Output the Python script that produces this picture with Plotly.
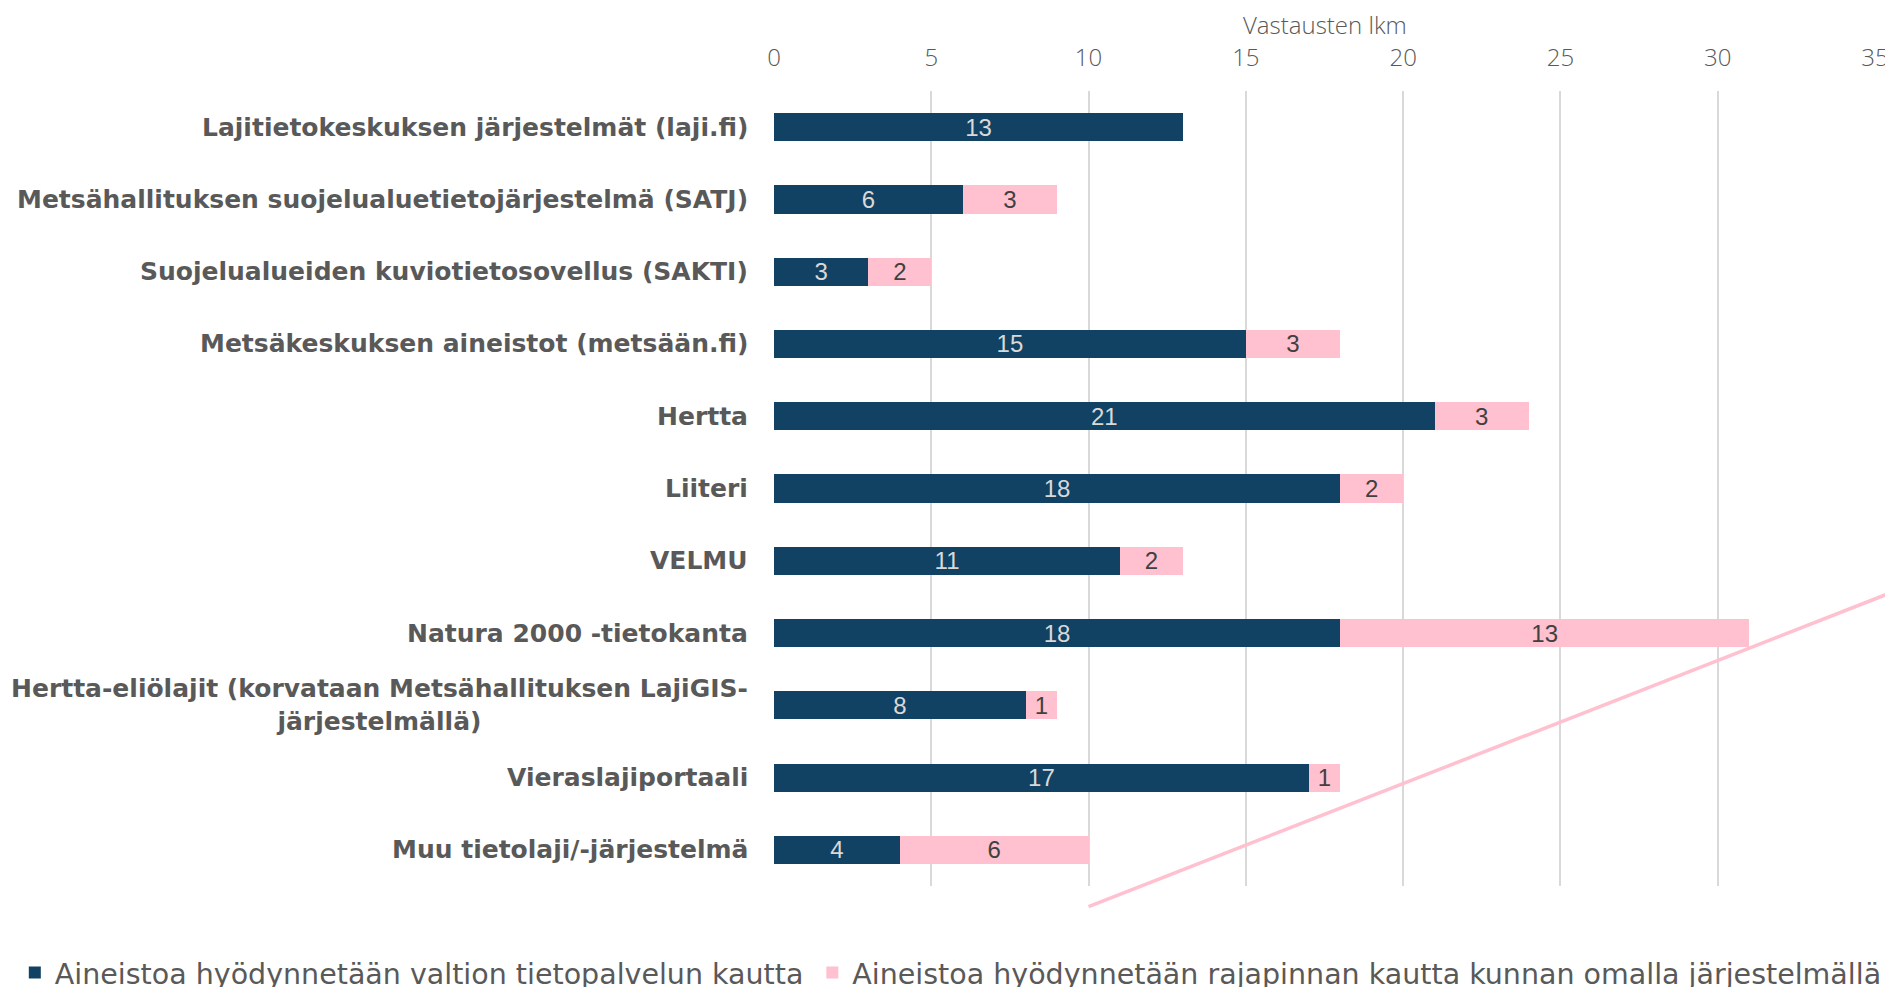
import plotly.graph_objects as go

categories = [
    "Lajitietokeskuksen järjestelmät (laji.fi)",
    "Metsähallituksen suojelualuetietojärjestelmä (SATJ)",
    "Suojelualueiden kuviotietosovellus (SAKTI)",
    "Metsäkeskuksen aineistot (metsään.fi)",
    "Hertta",
    "Liiteri",
    "VELMU",
    "Natura 2000 -tietokanta",
    "Hertta-eliölajit (korvataan Metsähallituksen LajiGIS-<br>järjestelmällä)",
    "Vieraslajiportaali",
    "Muu tietolaji/-järjestelmä",
]
valtion = [13, 6, 3, 15, 21, 18, 11, 18, 8, 17, 4]
rajapinta = [None, 3, 2, 3, 3, 2, 2, 13, 1, 1, 6]
series_names = [
    "Aineistoa hyödynnetään valtion tietopalvelun kautta",
    "Aineistoa hyödynnetään rajapinnan kautta kunnan omalla järjestelmällä",
]
x_title = "Vastausten lkm"
x_ticks = [0, 5, 10, 15, 20, 25, 30, 35]

NAVY = "#124263"
PINK = "#FFC0CF"
GREY = "#595959"
LIGHT_FONT = "Open Sans, Roboto, sans-serif"
BAR_FONT = "Liberation Sans, Arial, sans-serif"
LABEL_FONT = "DejaVu Sans, sans-serif"

fig = go.Figure()
fig.add_trace(go.Bar(
    y=categories, x=valtion, orientation="h", name=series_names[0],
    marker=dict(color=NAVY, line=dict(width=0)),
    text=[str(v) for v in valtion], textposition="inside",
    insidetextanchor="middle", textangle=0, constraintext="none",
    textfont=dict(family=BAR_FONT, size=24, color="#D9D9D9"),
    legend="legend",
))
fig.add_trace(go.Bar(
    y=categories, x=rajapinta, orientation="h", name=series_names[1],
    marker=dict(color=PINK, line=dict(width=0)),
    text=["" if v is None else str(v) for v in rajapinta], textposition="inside",
    insidetextanchor="middle", textangle=0, constraintext="none",
    textfont=dict(family=BAR_FONT, size=24, color="#404040"),
    legend="legend2",
))

# category labels as annotations (centered multi-line text)
for c in categories:
    fig.add_annotation(
        x=0, xref="paper", y=c, yref="y", xanchor="right", yanchor="middle",
        xshift=-24, text=c, showarrow=False, align="center",
        font=dict(family=LABEL_FONT, size=25, color=GREY, weight="bold"),
    )

# axis title
fig.add_annotation(
    x=0.5, xref="paper", y=1.0836, yref="paper", xanchor="center", yanchor="middle",
    text=x_title, showarrow=False,
    font=dict(size=24, color=GREY, family=LIGHT_FONT, weight=300),
)

# decorative pink line
fig.add_shape(
    type="line", xref="paper", yref="paper",
    x0=10 / 35, y0=-0.026, x1=1.0164, y1=0.37,
    line=dict(color=PINK, width=3.5),
)

legend_font = dict(size=28.5, color=GREY, family=LABEL_FONT)
fig.update_layout(
    width=1893, height=987,
    margin=dict(l=766, r=26, t=83, b=109),
    plot_bgcolor="white", paper_bgcolor="white",
    barmode="stack", bargap=0.61,
    font=dict(family=LIGHT_FONT, color=GREY),
    xaxis=dict(
        side="top", range=[0, 35], tickvals=x_ticks, ticks="",
        showgrid=True, gridcolor="#D9D9D9", gridwidth=1.5,
        zeroline=False, showline=False, automargin=False,
        tickfont=dict(size=24, color=GREY, family=LIGHT_FONT, weight=300),
        ticklabelstandoff=19,
    ),
    yaxis=dict(
        autorange="reversed", showticklabels=False, ticks="",
        showgrid=False, zeroline=False, showline=False, automargin=False,
    ),
    showlegend=True,
    legend=dict(
        orientation="h", xref="container", yref="container",
        x=0.0036, y=0.0223, xanchor="left", yanchor="middle",
        font=legend_font, itemwidth=30,
    ),
    legend2=dict(
        orientation="h", xref="container", yref="container",
        x=0.4249, y=0.0223, xanchor="left", yanchor="middle",
        font=legend_font, itemwidth=30,
    ),
)

fig.write_html("out.html")
